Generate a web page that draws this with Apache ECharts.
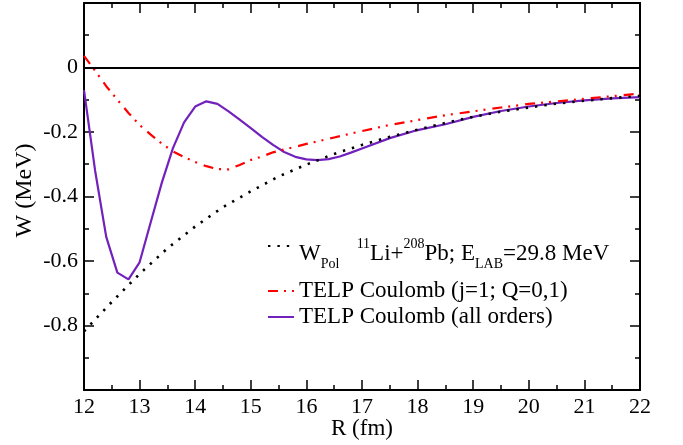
<!DOCTYPE html>
<html lang="en">
<head>
    <meta charset="UTF-8">
    <title>W(R) 11Li + 208Pb</title>
    <script src="https://cdn.jsdelivr.net/npm/echarts/dist/echarts.min.js"></script>
    <style>
        html, body { margin: 0; padding: 0; background: #fff; }
        #chart { width: 683px; height: 445px; }
    </style>
</head>
<body>
<div id="chart"></div>
<script>
    // W_Pol (black dotted)
    var R_POL = [12, 12.5, 13, 13.5, 14, 14.5, 15, 15.5, 16, 16.5, 17, 17.5, 18, 18.5, 19, 19.5, 20, 20.5, 21, 21.5, 22];
    var W_POL = [-0.818, -0.727, -0.640, -0.561, -0.493, -0.433, -0.384, -0.338, -0.301, -0.268, -0.240, -0.215, -0.193, -0.172, -0.153, -0.137, -0.124, -0.112, -0.103, -0.095, -0.088];

    // TELP Coulomb j=1 (red dash-dot-dot)
    var R_J1 = [12, 12.2, 12.4, 12.6, 12.8, 13, 13.2, 13.4, 13.6, 13.8, 14, 14.2, 14.4, 14.6, 14.8, 15, 15.2, 15.4, 15.6, 15.8, 16, 16.5, 17, 17.5, 18, 18.5, 19, 19.5, 20, 20.5, 21, 21.5, 22];
    var W_J1 = [0.036, -0.010, -0.058, -0.100, -0.141, -0.178, -0.208, -0.236, -0.260, -0.278, -0.293, -0.306, -0.315, -0.316, -0.302, -0.287, -0.276, -0.263, -0.254, -0.246, -0.237, -0.217, -0.197, -0.178, -0.163, -0.148, -0.136, -0.124, -0.113, -0.105, -0.097, -0.089, -0.081];

    // TELP Coulomb all orders (purple)
    var R_ALL = [12, 12.2, 12.4, 12.6, 12.8, 13, 13.2, 13.4, 13.6, 13.8, 14, 14.2, 14.4, 14.6, 14.8, 15, 15.2, 15.4, 15.6, 15.8, 16, 16.2, 16.4, 16.6, 16.8, 17, 17.5, 18, 18.5, 19, 19.5, 20, 20.5, 21, 21.5, 22];
    var W_ALL = [-0.070, -0.320, -0.525, -0.636, -0.657, -0.604, -0.480, -0.357, -0.250, -0.170, -0.121, -0.105, -0.113, -0.136, -0.162, -0.188, -0.215, -0.240, -0.262, -0.277, -0.285, -0.287, -0.284, -0.276, -0.264, -0.251, -0.219, -0.194, -0.176, -0.153, -0.135, -0.121, -0.110, -0.102, -0.096, -0.092];

    var HIDDEN_Y_LABELS = [0.2, -1];

    function pairs(xs, ys) {
        return xs.map(function(x, i) { return [x, ys[i]]; });
    }

    var serif = '"Liberation Serif", "DejaVu Serif", serif';
    var chart = echarts.init(document.getElementById('chart'));

    var boxAxis = {
        axisLine: { show: true, onZero: false, lineStyle: { color: '#000', width: 2 } },
        axisTick: { show: true, inside: true, length: 10, lineStyle: { color: '#000', width: 1.5 } },
        minorTick: { show: true, splitNumber: 2, length: 5, lineStyle: { color: '#000', width: 1.5 } },
        splitLine: { show: false }
    };

    function legendBox(name, top, fmt, extra) {
        var l = {
            data: [name],
            left: 262,
            top: top,
            orient: 'vertical',
            itemWidth: 26,
            itemHeight: 14,
            selectedMode: false,
            itemStyle: { opacity: 0 },
            formatter: fmt,
            textStyle: { fontFamily: serif, fontSize: 23, color: '#000', lineHeight: 24 }
        };
        return Object.assign(l, extra || {});
    }

    chart.setOption({
        animation: false,
        grid: { left: 84, right: 43, top: 3, bottom: 54, containLabel: false },
        xAxis: [
            Object.assign({
                type: 'value', min: 12, max: 22, interval: 1, position: 'bottom',
                name: 'R (fm)', nameLocation: 'middle', nameGap: 27, nameMoveOverlap: false,
                nameTextStyle: { fontFamily: serif, fontSize: 23, color: '#000' },
                axisLabel: { fontFamily: serif, fontSize: 22, color: '#000', margin: 6 }
            }, boxAxis),
            Object.assign({
                type: 'value', min: 12, max: 22, interval: 1, position: 'top',
                axisLabel: { show: false }
            }, boxAxis)
        ],
        yAxis: [
            Object.assign({
                type: 'value', min: -1, max: 0.2, interval: 0.2, position: 'left',
                name: 'W (MeV)', nameLocation: 'middle', nameGap: 47, nameMoveOverlap: false,
                nameTextStyle: { fontFamily: serif, fontSize: 24, color: '#000', padding: [0, 0, 0, 12] },
                axisLabel: {
                    fontFamily: serif, fontSize: 22, color: '#000', margin: 6,
                    formatter: function(v) {
                        var r = Math.round(v * 10) / 10;
                        if (HIDDEN_Y_LABELS.indexOf(r) >= 0) return '';
                        return r === 0 ? '0' : r.toFixed(1);
                    }
                }
            }, boxAxis),
            Object.assign({
                type: 'value', min: -1, max: 0.2, interval: 0.2, position: 'right',
                axisLabel: { show: false }
            }, boxAxis)
        ],
        legend: [
            legendBox('pol', 232, function() {
                return '{t|W}{sub|Pol}{t|   }{sup|11}{t|Li+}{sup|208}{t|Pb; E}{sub|LAB}{t|=29.8 MeV}';
            }, {
                textStyle: {
                    fontFamily: serif, fontSize: 23, color: '#000', padding: [16, 0, 0, 0],
                    rich: {
                        t: { fontFamily: serif, fontSize: 23, color: '#000', lineHeight: 34, verticalAlign: 'middle' },
                        sub: { fontFamily: serif, fontSize: 14, color: '#000', lineHeight: 10, verticalAlign: 'bottom' },
                        sup: { fontFamily: serif, fontSize: 14, color: '#000', lineHeight: 14, verticalAlign: 'top' }
                    }
                }
            }),
            legendBox('j1', 274, function() { return 'TELP Coulomb (j=1; Q=0,1)'; }),
            legendBox('all', 300, function() { return 'TELP Coulomb (all orders)'; })
        ],
        series: [
            {
                name: 'pol', type: 'line', data: pairs(R_POL, W_POL),
                symbol: 'none', smooth: false, z: 3,
                lineStyle: { color: '#000', width: 2.6, type: [2.4, 7], cap: 'butt' },
                itemStyle: { color: '#000' },
                markLine: {
                    silent: true, symbol: 'none', label: { show: false },
                    lineStyle: { color: '#000', width: 2, type: 'solid' },
                    data: [{ yAxis: 0 }]
                }
            },
            {
                name: 'j1', type: 'line', data: pairs(R_J1, W_J1),
                symbol: 'none', smooth: false, z: 4,
                lineStyle: { color: '#ff0000', width: 2.2, type: [10, 6, 2, 6, 2, 7] },
                itemStyle: { color: '#ff0000' }
            },
            {
                name: 'all', type: 'line', data: pairs(R_ALL, W_ALL),
                symbol: 'none', smooth: false, z: 2,
                lineStyle: { color: '#7221bc', width: 2.2 },
                itemStyle: { color: '#7221bc' }
            }
        ]
    });
</script>
</body>
</html>
